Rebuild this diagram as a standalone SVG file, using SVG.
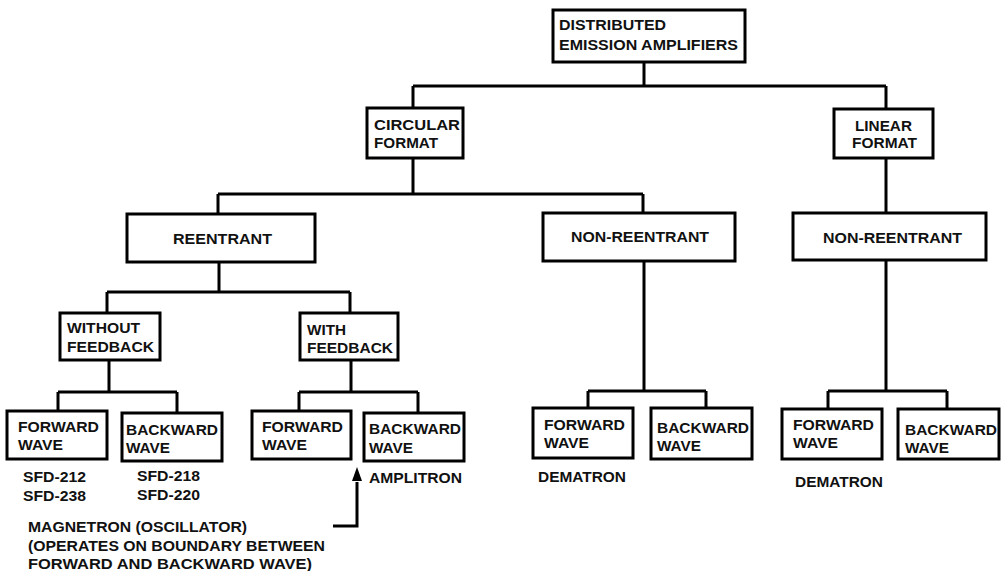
<svg xmlns="http://www.w3.org/2000/svg" width="1002" height="571" viewBox="0 0 1002 571">
  <style>
    .box { fill: #ffffff; stroke: #000000; stroke-width: 3; }
    .wire { fill: none; stroke: #000000; stroke-width: 3; stroke-linejoin: miter; stroke-linecap: butt; }
    .t { font-family: "Liberation Sans", Arial, Helvetica, sans-serif; font-weight: bold; font-size: 15px; fill: #111111; }
  </style>
  <rect width="1002" height="571" fill="#ffffff"/>

  <!-- tree connectors -->
  <g id="connectors">
    <path class="wire" d="M644,62 V86 M413,86 H886 M413,86 V108 M886,86 V109"/>
    <path class="wire" d="M413,158 V194 M218,194 H643 M218,194 V214 M643,194 V213"/>
    <path class="wire" d="M886,158 V213"/>
    <path class="wire" d="M219,262 V292 M107,292 H350 M107,292 V313 M350,292 V313"/>
    <path class="wire" d="M109,360 V392 M58,392 H177 M58,392 V411 M177,392 V413"/>
    <path class="wire" d="M351,360 V392 M299,392 H418 M299,392 V411 M418,392 V413"/>
    <path class="wire" d="M644,261 V391 M588,391 H706 M588,391 V408 M706,391 V408"/>
    <path class="wire" d="M886,260 V391 M828,391 H947 M828,391 V409 M947,391 V409"/>
    <!-- magnetron pointer with arrowhead -->
    <path class="wire" d="M333,526 H357 V482" />
    <path d="M357,467 L352,481 L362,481 Z" fill="#000000"/>
  </g>

  <g id="root">
    <rect class="box" x="553" y="10" width="192" height="52"/>
    <text class="t" x="559" y="30" textLength="107" lengthAdjust="spacingAndGlyphs">DISTRIBUTED</text>
    <text class="t" x="559" y="50" textLength="179" lengthAdjust="spacingAndGlyphs">EMISSION AMPLIFIERS</text>
  </g>

  <g id="circular-format">
    <rect class="box" x="367" y="108" width="96" height="50"/>
    <text class="t" x="374" y="130" textLength="86" lengthAdjust="spacingAndGlyphs">CIRCULAR</text>
    <text class="t" x="374" y="148" textLength="64" lengthAdjust="spacingAndGlyphs">FORMAT</text>
  </g>

  <g id="linear-format">
    <rect class="box" x="834" y="109" width="99" height="49"/>
    <text class="t" x="855" y="131" textLength="57" lengthAdjust="spacingAndGlyphs">LINEAR</text>
    <text class="t" x="852" y="148" textLength="65" lengthAdjust="spacingAndGlyphs">FORMAT</text>
  </g>

  <g id="reentrant">
    <rect class="box" x="127" y="214" width="188" height="48"/>
    <text class="t" x="173" y="244" textLength="99" lengthAdjust="spacingAndGlyphs">REENTRANT</text>
  </g>

  <g id="circular-non-reentrant">
    <rect class="box" x="543" y="213" width="192" height="48"/>
    <text class="t" x="571" y="242" textLength="138" lengthAdjust="spacingAndGlyphs">NON-REENTRANT</text>
  </g>

  <g id="linear-non-reentrant">
    <rect class="box" x="793" y="213" width="193" height="47"/>
    <text class="t" x="823" y="243" textLength="139" lengthAdjust="spacingAndGlyphs">NON-REENTRANT</text>
  </g>

  <g id="without-feedback">
    <rect class="box" x="60" y="313" width="100" height="47"/>
    <text class="t" x="67" y="333" textLength="73" lengthAdjust="spacingAndGlyphs">WITHOUT</text>
    <text class="t" x="67" y="352" textLength="87" lengthAdjust="spacingAndGlyphs">FEEDBACK</text>
  </g>

  <g id="with-feedback">
    <rect class="box" x="300" y="313" width="98" height="47"/>
    <text class="t" x="307" y="335" textLength="39" lengthAdjust="spacingAndGlyphs">WITH</text>
    <text class="t" x="307" y="353" textLength="86" lengthAdjust="spacingAndGlyphs">FEEDBACK</text>
  </g>

  <!-- reentrant, without feedback -->
  <g id="wo-forward">
    <rect class="box" x="7" y="411" width="100" height="48"/>
    <text class="t" x="18" y="432" textLength="81" lengthAdjust="spacingAndGlyphs">FORWARD</text>
    <text class="t" x="18" y="450" textLength="45" lengthAdjust="spacingAndGlyphs">WAVE</text>
    <text class="t" x="23" y="482" textLength="63" lengthAdjust="spacingAndGlyphs">SFD-212</text>
    <text class="t" x="23" y="501" textLength="63" lengthAdjust="spacingAndGlyphs">SFD-238</text>
  </g>
  <g id="wo-backward">
    <rect class="box" x="122" y="413" width="100" height="48"/>
    <text class="t" x="126" y="435" textLength="92" lengthAdjust="spacingAndGlyphs">BACKWARD</text>
    <text class="t" x="126" y="453" textLength="44" lengthAdjust="spacingAndGlyphs">WAVE</text>
    <text class="t" x="137" y="481" textLength="63" lengthAdjust="spacingAndGlyphs">SFD-218</text>
    <text class="t" x="137" y="500" textLength="63" lengthAdjust="spacingAndGlyphs">SFD-220</text>
  </g>

  <!-- reentrant, with feedback -->
  <g id="wf-forward">
    <rect class="box" x="252" y="411" width="99" height="48"/>
    <text class="t" x="262" y="432" textLength="81" lengthAdjust="spacingAndGlyphs">FORWARD</text>
    <text class="t" x="262" y="450" textLength="45" lengthAdjust="spacingAndGlyphs">WAVE</text>
  </g>
  <g id="wf-backward">
    <rect class="box" x="364" y="413" width="100" height="48"/>
    <text class="t" x="369" y="434" textLength="92" lengthAdjust="spacingAndGlyphs">BACKWARD</text>
    <text class="t" x="369" y="453" textLength="44" lengthAdjust="spacingAndGlyphs">WAVE</text>
    <text class="t" x="369" y="483" textLength="93" lengthAdjust="spacingAndGlyphs">AMPLITRON</text>
  </g>

  <g id="magnetron-note">
    <text class="t" x="28" y="532" textLength="219" lengthAdjust="spacingAndGlyphs">MAGNETRON (OSCILLATOR)</text>
    <text class="t" x="28" y="551" textLength="297" lengthAdjust="spacingAndGlyphs">(OPERATES ON BOUNDARY BETWEEN</text>
    <text class="t" x="28" y="569" textLength="284" lengthAdjust="spacingAndGlyphs">FORWARD AND BACKWARD WAVE)</text>
  </g>

  <!-- circular, non-reentrant -->
  <g id="cn-forward">
    <rect class="box" x="533" y="408" width="100" height="50"/>
    <text class="t" x="544" y="430" textLength="81" lengthAdjust="spacingAndGlyphs">FORWARD</text>
    <text class="t" x="544" y="448" textLength="45" lengthAdjust="spacingAndGlyphs">WAVE</text>
    <text class="t" x="538" y="482" textLength="88" lengthAdjust="spacingAndGlyphs">DEMATRON</text>
  </g>
  <g id="cn-backward">
    <rect class="box" x="651" y="408" width="101" height="51"/>
    <text class="t" x="657" y="433" textLength="92" lengthAdjust="spacingAndGlyphs">BACKWARD</text>
    <text class="t" x="657" y="451" textLength="44" lengthAdjust="spacingAndGlyphs">WAVE</text>
  </g>

  <!-- linear, non-reentrant -->
  <g id="ln-forward">
    <rect class="box" x="782" y="409" width="100" height="50"/>
    <text class="t" x="793" y="430" textLength="81" lengthAdjust="spacingAndGlyphs">FORWARD</text>
    <text class="t" x="793" y="448" textLength="45" lengthAdjust="spacingAndGlyphs">WAVE</text>
    <text class="t" x="795" y="487" textLength="88" lengthAdjust="spacingAndGlyphs">DEMATRON</text>
  </g>
  <g id="ln-backward">
    <rect class="box" x="898" y="409" width="101" height="50"/>
    <text class="t" x="905" y="435" textLength="92" lengthAdjust="spacingAndGlyphs">BACKWARD</text>
    <text class="t" x="905" y="453" textLength="44" lengthAdjust="spacingAndGlyphs">WAVE</text>
  </g>
</svg>
